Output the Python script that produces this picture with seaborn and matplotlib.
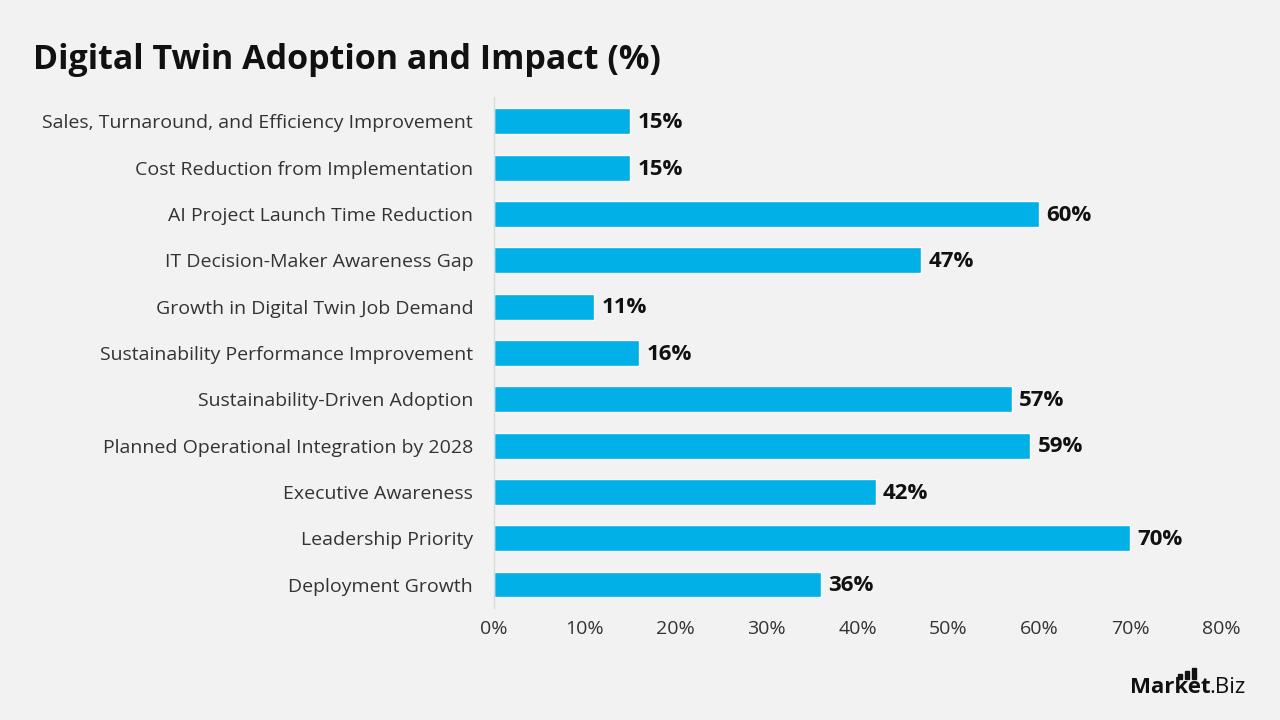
import matplotlib
matplotlib.use('Agg')
import matplotlib.pyplot as plt
import matplotlib.patches as mpatches
import seaborn as sns
import pandas as pd

categories = [
    'Sales, Turnaround, and Efficiency Improvement',
    'Cost Reduction from Implementation',
    'AI Project Launch Time Reduction',
    'IT Decision-Maker Awareness Gap',
    'Growth in Digital Twin Job Demand',
    'Sustainability Performance Improvement',
    'Sustainability-Driven Adoption',
    'Planned Operational Integration by 2028',
    'Executive Awareness',
    'Leadership Priority',
    'Deployment Growth',
]
values = [15, 15, 60, 47, 11, 16, 57, 59, 42, 70, 36]
ticks = [0, 10, 20, 30, 40, 50, 60, 70, 80]

df = pd.DataFrame({'cat': categories, 'val': values})

sns.set_style('white')
plt.rcParams['font.family'] = ['Open Sans', 'DejaVu Sans']
bg = '#f2f2f2'
bar_color = '#00b0e6'

fig = plt.figure(figsize=(12.8, 7.2), dpi=100, facecolor=bg)
ax = fig.add_axes([0.386, 0.156, 0.568, 0.709], facecolor=bg)

sns.barplot(data=df, x='val', y='cat', color=bar_color, width=0.56,
            saturation=1, ax=ax, orient='h')

for i, v in enumerate(values):
    ax.text(v + 0.8, i + 0.03, '%d%%' % v, va='center', ha='left',
            fontsize=16, fontweight='bold', color='#111111')

ax.set_xlim(0, 80)
ax.set_ylim(10.5, -0.52)
ax.set_xticks(ticks)
ax.set_xticklabels(['%d%%' % t for t in ticks], fontsize=14, color='#333333')
ax.tick_params(axis='y', labelsize=14, labelcolor='#333333', length=0, pad=15)
ax.tick_params(axis='x', length=0, pad=9)
ax.set_xlabel('')
ax.set_ylabel('')
for s in ['top', 'right', 'bottom']:
    ax.spines[s].set_visible(False)
ax.spines['left'].set_color('#d9d9d9')
ax.spines['left'].set_linewidth(1)

fig.text(0.026, 0.917, 'Digital Twin Adoption and Impact (%)', fontsize=24.5,
         fontweight='bold', color='#111111', va='center', ha='left')

# logo
fig.text(0.883, 0.038, 'Market', fontsize=16, fontweight='bold', color='#111111',
         ha='left', va='baseline')
fig.text(0.9445, 0.038, '.Biz', fontsize=16, color='#111111', ha='left', va='baseline')
for bx, bh in [(1178, 5), (1185, 8), (1192, 11)]:
    fig.add_artist(mpatches.Rectangle((bx / 1280, (720 - 679) / 720), 3.5 / 1280, bh / 720,
                                      transform=fig.transFigure, color='#111111'))

fig.savefig('out.png', dpi=100, facecolor=bg)
